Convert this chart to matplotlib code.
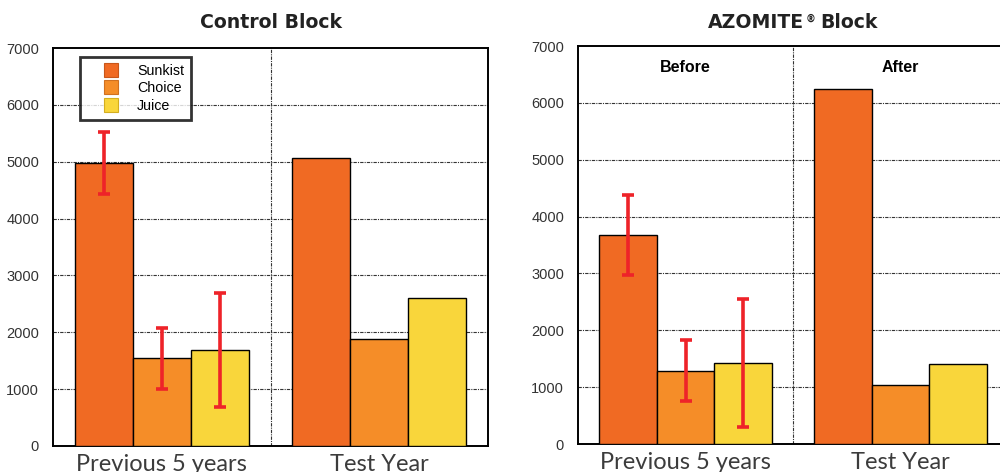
import matplotlib
matplotlib.use("Agg")
import matplotlib.pyplot as plt
import numpy as np
from matplotlib.lines import Line2D

groups = ["Previous 5 years", "Test Year"]
series = ["Sunkist", "Choice", "Juice"]
colors = ["#F06A23", "#F58D28", "#F9D63B"]
edge_colors = ["#C8561A", "#D07020", "#D4AE20"]

control_vals = {"Sunkist": [4980, 5070], "Choice": [1540, 1880], "Juice": [1690, 2600]}
control_err = {"Sunkist": [550, 0], "Choice": [540, 0], "Juice": [1005, 0]}

azomite_vals = {"Sunkist": [3680, 6240], "Choice": [1290, 1040], "Juice": [1430, 1400]}
azomite_err = {"Sunkist": [705, 0], "Choice": [537, 0], "Juice": [1128, 0]}

yticks = [0, 1000, 2000, 3000, 4000, 5000, 6000, 7000]
panel_labels = ["Before", "After"]

plt.rcParams['font.family'] = ['Liberation Sans', 'DejaVu Sans']

fig = plt.figure(figsize=(10, 4.72), dpi=100)
ax1 = fig.add_axes([0.053, 0.0551, 0.435, 0.8432])
ax2 = fig.add_axes([0.578, 0.0593, 0.430, 0.8432])

w = 0.267
centers = np.array([0.5, 1.5])

def draw(ax, vals, errs):
    for i, s in enumerate(series):
        x = centers + (i - 1) * w
        ax.bar(x, vals[s], width=w, color=colors[i], edgecolor="black", linewidth=1.0, zorder=3)
        e = np.array(errs[s])
        mask = e > 0
        ax.errorbar(x[mask], np.array(vals[s])[mask], yerr=e[mask], fmt="none",
                    ecolor="#EE2329", elinewidth=2.6, capsize=4.5, capthick=2.6, zorder=4)
    ax.set_xlim(0, 2)
    ax.set_ylim(0, 7000)
    ax.set_yticks(yticks)
    ax.set_yticklabels([str(t) for t in yticks], fontsize=10.5, color="#333333")
    ax.set_xticks(centers)
    ax.set_xticklabels(groups, fontsize=17, color="#3c3c3c", family=["Lato", "DejaVu Sans"])
    ax.tick_params(axis="x", length=0, pad=6)
    ax.tick_params(axis="y", length=0, pad=10)
    for yv in yticks[1:-1]:
        ax.axhline(yv, color="#333333", linestyle=(0, (3, 1, 1, 1)), linewidth=0.8, zorder=1)
    ax.axvline(1.0, color="#333333", linestyle=(0, (3, 1, 1, 1)), linewidth=0.8, zorder=1)
    for sp in ax.spines.values():
        sp.set_linewidth(1.4)
        sp.set_color("black")

draw(ax1, control_vals, control_err)
draw(ax2, azomite_vals, azomite_err)

title_kw = dict(fontsize=13.6, fontweight="bold", color="#222222", family=["DejaVu Sans"])
ax1.text(0.5, 1.0 + 20 / 398, "Control Block", transform=ax1.transAxes, ha="center",
         va="baseline", **title_kw)

# "AZOMITE® Block" title: pieces laid out in pixel space and centred over the axes
r = fig.canvas.get_renderer()
ty = 1.0 + 18 / 398
t_a = ax2.text(0, ty, "AZOMITE", transform=ax2.transAxes, ha="left", va="baseline", **title_kw)
t_r = ax2.text(0, ty, "\u00ae", transform=ax2.transAxes, ha="left", va="baseline",
               fontsize=7, fontweight="bold", color="#222222", family=["DejaVu Sans"])
t_b = ax2.text(0, ty, "Block", transform=ax2.transAxes, ha="left", va="baseline", **title_kw)
fig.canvas.draw()
wa = t_a.get_window_extent(r).width
wr = t_r.get_window_extent(r).width
wb = t_b.get_window_extent(r).width
gap1, gap2 = 1.0, 5.0
total = wa + gap1 + wr + gap2 + wb
ax_bb = ax2.get_window_extent(r)
x0 = (ax_bb.x0 + ax_bb.x1) / 2 - total / 2
t_a.set_x((x0 - ax_bb.x0) / ax_bb.width)
t_r.set_x((x0 + wa + gap1 - ax_bb.x0) / ax_bb.width)
t_r.set_y(ty + 6 / 398)
t_b.set_x((x0 + wa + gap1 + wr + gap2 - ax_bb.x0) / ax_bb.width)

for xc, lab in zip(centers, panel_labels):
    ax2.text(xc, 6630, lab, ha="center", va="center", fontsize=11.5, fontweight="bold", zorder=5)

handles = [Line2D([], [], linestyle="none", marker="s", markersize=10, markerfacecolor=c,
                  markeredgecolor=ec, markeredgewidth=0.8, label=s)
           for s, c, ec in zip(series, colors, edge_colors)]
leg = ax1.legend(handles=handles, loc="upper left", bbox_to_anchor=(0.062, 0.977), fontsize=10.3,
                 frameon=True, fancybox=False, edgecolor="black", handlelength=3.4,
                 handletextpad=0.1, borderpad=0.5, labelspacing=0.22, borderaxespad=0.0)
leg.get_frame().set_linewidth(2.0)
leg.set_zorder(6)

fig.savefig("out.png", dpi=100)
